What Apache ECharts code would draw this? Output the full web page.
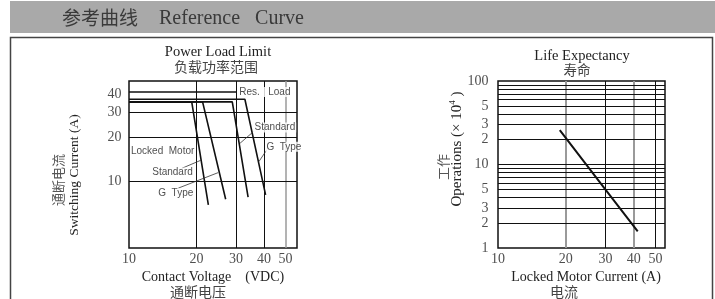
<!DOCTYPE html>
<html><head><meta charset="utf-8">
<script src="https://cdn.jsdelivr.net/npm/echarts@6/dist/echarts.min.js"></script>
<style>html,body{margin:0;padding:0;background:#fff;}#c{width:715px;height:299px;}</style>
</head><body><div id="c"></div>
<script>
// ---------- Power Load Limit (left) ----------
const voltageTicks = [10, 20, 30, 40, 50];
const switchCurrentTicks = [10, 20, 30, 40];
const voltageGridLines = [20, 30, 40, 50];
const switchCurrentGridLines = [10, 20, 30];
const resLoadVoltage = [10, 30.3];
const resLoadCurrent = [41.2, 41.2];
const standard1Voltage = [10, 19.05, 22.6];
const standard1Current = [35.2, 35.2, 6.9];
const gType1Voltage = [10, 21.3, 27.0];
const gType1Current = [35.2, 35.2, 7.55];
const standard2Voltage = [10, 28.9, 34.0];
const standard2Current = [35.2, 35.2, 7.8];
const gType2Voltage = [10, 32.9, 40.7];
const gType2Current = [36.7, 36.7, 8.08];
const noteNames = ['Res.   Load', 'Locked  Motor', 'Standard', 'G  Type', 'Standard', 'G  Type'];
const noteVoltage = [30.6, 10.05, 12.5, 13.3, 35.8, 40.4];
const noteCurrent = [41.2, 16.0, 11.5, 8.3, 23.5, 17.3];
const leaderStandard1 = [[17.2, 12.3], [20.95, 14.0]];
const leaderGType1 = [[16.6, 9.0], [25.0, 11.5]];
const leaderStandard2 = [[35.8, 21.9], [31.3, 18.3]];
const leaderGType2 = [[41.1, 16.4], [38.0, 13.7]];

// ---------- Life Expectancy (right) ----------
const motorCurrentTicks = [10, 20, 30, 40, 50];
const operationTicks = [1, 2, 3, 5, 10, 20, 30, 50, 100];
const operationTickLabels = ['1', '2', '3', '5', '10', '2', '3', '5', '100'];
const motorCurrentGridLines = [20, 30, 40, 50];
const operationGridLines = [2, 3, 4, 5, 6, 7, 8, 9, 10, 20, 30, 40, 50, 60, 70, 80, 90];
const lifeCurrent = [18.8, 30, 41.7];
const lifeOperations = [25.8, 5, 1.58];

// ---------- rendering ----------
const serif = '"Liberation Serif","Times New Roman",serif';
const sans = '"Liberation Sans",Arial,sans-serif';
const cjk = '"Noto Sans CJK SC",sans-serif';
const zip = (a, b) => a.map((v, i) => [v, b[i]]);
const LX = [10, 56.2], LY = [3.49, 49];
const RX = [10, 55.1], RY = [1, 100];
const grayLeft = [50];
const grayRight = [20, 40];

function curve(x, y, ax) {
  return { type: 'line', xAxisIndex: ax, yAxisIndex: ax, data: zip(x, y), symbol: 'none', silent: true,
    lineStyle: { color: '#111', width: 1.6 }, z: 3, clip: false };
}
function leader(pts) {
  return { type: 'line', xAxisIndex: 0, yAxisIndex: 0, data: pts, symbol: 'none', silent: true,
    lineStyle: { color: '#333', width: 0.8 }, z: 3 };
}
function gridMarks(xs, ys, grays, grayW) {
  return { silent: true, symbol: ['none', 'none'], z: 1, animation: false, label: { show: false },
    data: xs.map(v => ({ xAxis: v, lineStyle: { type: 'solid', color: grays.includes(v) ? '#9a9a9a' : '#111', width: grays.includes(v) ? grayW : 1 } }))
      .concat(ys.map(v => ({ yAxis: v, lineStyle: { type: 'solid', color: '#111', width: 1 } }))) };
}
function tickLabels(ax, pts, pos, dist, fmt) {
  return { type: 'scatter', xAxisIndex: ax, yAxisIndex: ax, data: pts, symbolSize: 1, clip: false, silent: true,
    itemStyle: { color: 'rgba(0,0,0,0)' }, z: 4,
    label: { show: true, position: pos, distance: dist, formatter: fmt, fontFamily: serif, fontSize: 14, color: '#222' } };
}

const leftRes = curve(resLoadVoltage, resLoadCurrent, 0);
leftRes.markLine = gridMarks(voltageGridLines, switchCurrentGridLines, grayLeft, 1.5);
const lifeSeries = curve(lifeCurrent, lifeOperations, 1);
lifeSeries.lineStyle.width = 2;
lifeSeries.markLine = gridMarks(motorCurrentGridLines, operationGridLines, grayRight, 2);

const option = {
  animation: false,
  grid: [
    { left: 129, top: 81, width: 168, height: 167, show: true, borderColor: '#111', borderWidth: 1.5, backgroundColor: 'transparent' },
    { left: 498, top: 81, width: 167, height: 167, show: true, borderColor: '#111', borderWidth: 1.5, backgroundColor: 'transparent' }
  ],
  xAxis: [
    { type: 'log', gridIndex: 0, min: LX[0], max: LX[1], axisLine: { show: false }, axisTick: { show: false }, axisLabel: { show: false }, splitLine: { show: false } },
    { type: 'log', gridIndex: 1, min: RX[0], max: RX[1], axisLine: { show: false }, axisTick: { show: false }, axisLabel: { show: false }, splitLine: { show: false } }
  ],
  yAxis: [
    { type: 'log', gridIndex: 0, min: LY[0], max: LY[1], axisLine: { show: false }, axisTick: { show: false }, axisLabel: { show: false }, splitLine: { show: false } },
    { type: 'log', gridIndex: 1, min: RY[0], max: RY[1], axisLine: { show: false }, axisTick: { show: false }, axisLabel: { show: false }, splitLine: { show: false } }
  ],
  series: [
    leftRes,
    curve(standard1Voltage, standard1Current, 0),
    curve(gType1Voltage, gType1Current, 0),
    curve(standard2Voltage, standard2Current, 0),
    curve(gType2Voltage, gType2Current, 0),
    leader(leaderStandard1), leader(leaderGType1), leader(leaderStandard2), leader(leaderGType2),
    { type: 'scatter', xAxisIndex: 0, yAxisIndex: 0, symbolSize: 1, clip: false, silent: true, z: 10,
      itemStyle: { color: 'rgba(0,0,0,0)' },
      data: noteNames.map((n, i) => ({ name: n, value: [noteVoltage[i], noteCurrent[i]] })),
      label: { show: true, position: 'right', distance: 0, formatter: p => p.name, fontFamily: sans, fontSize: 10,
        color: '#222', backgroundColor: '#fff', padding: [0, 1] } },
    tickLabels(0, voltageTicks.map(v => [v, LY[0]]), 'bottom', 4, p => String(p.value[0])),
    tickLabels(0, switchCurrentTicks.map(v => [LX[0], v]), 'left', 7, p => String(p.value[1])),
    lifeSeries,
    tickLabels(1, motorCurrentTicks.map(v => [v, RY[0]]), 'bottom', 4, p => String(p.value[0])),
    tickLabels(1, operationTicks.map(v => [RX[0], v]), 'left', 9, p => operationTickLabels[p.dataIndex])
  ],
  graphic: [
    { type: 'rect', shape: { x: 10, y: 1, width: 705, height: 32 }, style: { fill: '#a9a9a9' }, silent: true },
    { type: 'text', x: 62, y: 18, style: { text: '参考曲线', font: '19px ' + cjk, fill: '#3a3a3a', textVerticalAlign: 'middle' } },
    { type: 'text', x: 159, y: 19, style: { text: 'Reference   Curve', font: '20px ' + serif, fill: '#3a3a3a', textVerticalAlign: 'middle' } },
    { type: 'rect', shape: { x: 10.5, y: 37.5, width: 702, height: 290 }, style: { fill: 'none', stroke: '#444', lineWidth: 1.5 }, silent: true },
    // left titles
    { type: 'text', x: 218, y: 52, style: { text: 'Power Load Limit', font: '14.5px ' + serif, fill: '#222', textAlign: 'center', textVerticalAlign: 'middle' } },
    { type: 'text', x: 216, y: 67, style: { text: '负载功率范围', font: '14px ' + cjk, fill: '#444', textAlign: 'center', textVerticalAlign: 'middle' } },
    { type: 'text', x: 213, y: 277, style: { text: 'Contact Voltage    (VDC)', font: '14px ' + serif, fill: '#222', textAlign: 'center', textVerticalAlign: 'middle' } },
    { type: 'text', x: 198, y: 292, style: { text: '通断电压', font: '14px ' + cjk, fill: '#444', textAlign: 'center', textVerticalAlign: 'middle' } },
    { type: 'text', x: 74, y: 175, rotation: Math.PI / 2, style: { text: 'Switching Current (A)', font: '13.5px ' + serif, fill: '#222', textAlign: 'center', textVerticalAlign: 'middle' } },
    { type: 'text', x: 58, y: 180, rotation: Math.PI / 2, style: { text: '通断电流', font: '13px ' + cjk, fill: '#555', textAlign: 'center', textVerticalAlign: 'middle' } },
    // right titles
    { type: 'text', x: 582, y: 56, style: { text: 'Life Expectancy', font: '14.5px ' + serif, fill: '#222', textAlign: 'center', textVerticalAlign: 'middle' } },
    { type: 'text', x: 577, y: 70, style: { text: '寿命', font: '13.5px ' + cjk, fill: '#444', textAlign: 'center', textVerticalAlign: 'middle' } },
    { type: 'text', x: 586, y: 277, style: { text: 'Locked Motor Current (A)', font: '14px ' + serif, fill: '#222', textAlign: 'center', textVerticalAlign: 'middle' } },
    { type: 'text', x: 564, y: 292, style: { text: '电流', font: '14px ' + cjk, fill: '#444', textAlign: 'center', textVerticalAlign: 'middle' } },
    { type: 'text', x: 457, y: 149, rotation: Math.PI / 2, style: { text: '{a|Operations (× 10}{s|4}{a| )}', textAlign: 'center', textVerticalAlign: 'middle',
        rich: { a: { font: '15px ' + serif, fill: '#222', lineHeight: 17 }, s: { font: '9px ' + serif, fill: '#222', verticalAlign: 'top', lineHeight: 17 } } } },
    { type: 'text', x: 443, y: 167, rotation: Math.PI / 2, style: { text: '工作', font: '13px ' + cjk, fill: '#555', textAlign: 'center', textVerticalAlign: 'middle' } }
  ]
};
const chart = echarts.init(document.getElementById('c'));
chart.setOption(option);
</script></body></html>
